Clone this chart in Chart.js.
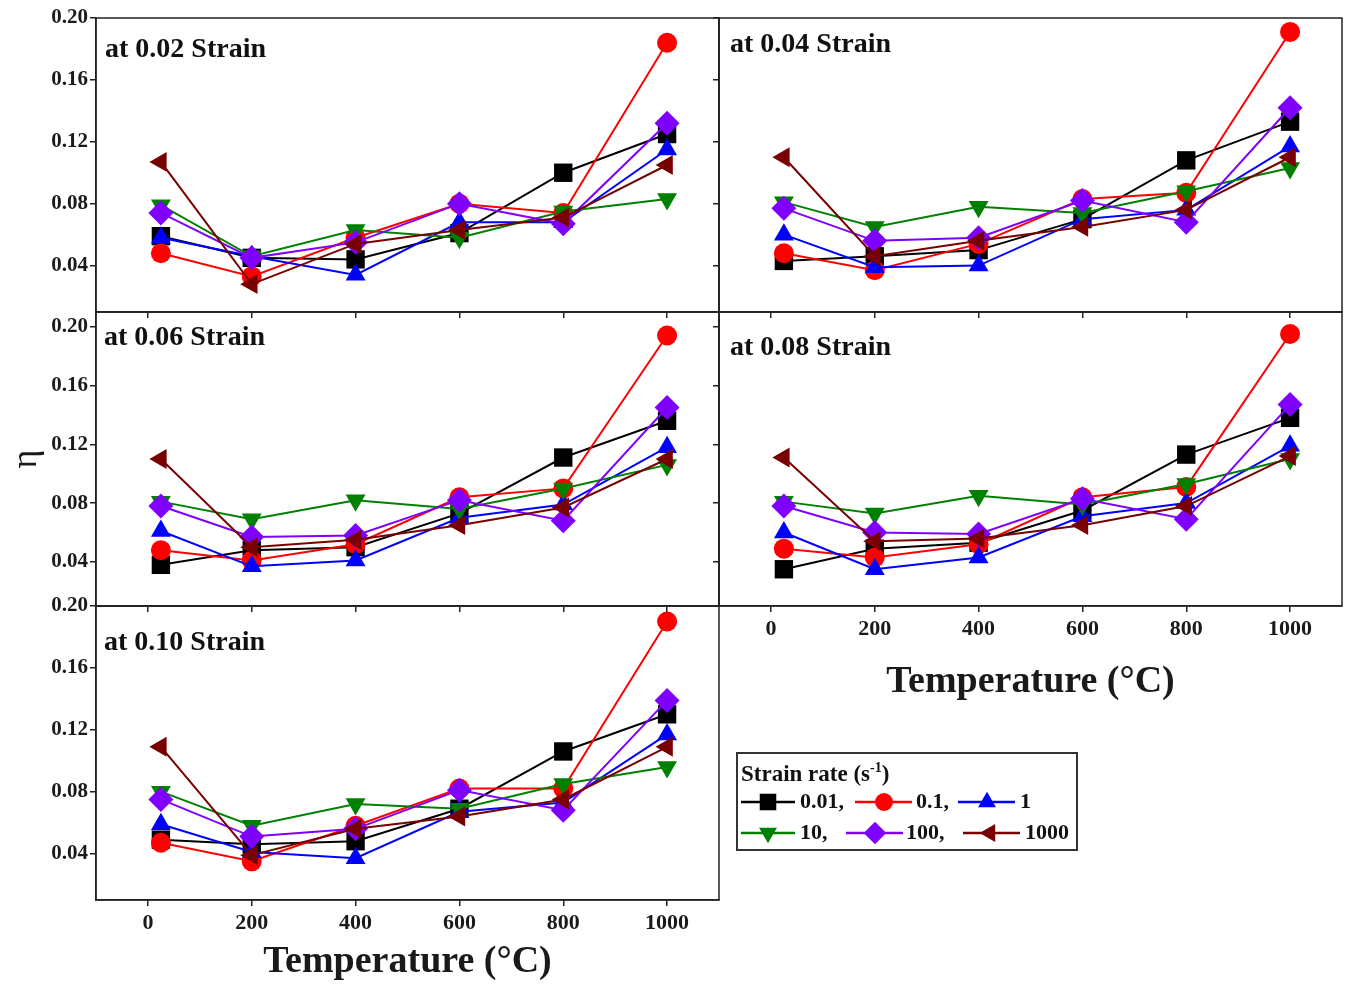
<!DOCTYPE html>
<html>
<head>
<meta charset="utf-8">
<script src="https://cdn.jsdelivr.net/npm/chart.js@4.4.1/dist/chart.umd.min.js"></script>
<style>
  html, body { margin: 0; padding: 0; background: #fff; overflow: hidden; }
  #wrap { position: relative; width: 1350px; height: 986px; }
  #wrap > canvas { position: absolute; }
  #legend { position: absolute; left: 736px; top: 752px; width: 342px; height: 99px;
            border: 2px solid #333; box-sizing: border-box; color: #111;
            font-family: "Liberation Serif", "Times New Roman", serif; font-weight: bold; }
  #legend span { position: absolute; white-space: nowrap; line-height: 1; }
  #legend canvas { position: absolute; left: 0; top: 0; }
</style>
</head>
<body>
<div id="wrap">
  <canvas id="c002"></canvas>
  <canvas id="c004"></canvas>
  <canvas id="c006"></canvas>
  <canvas id="c008"></canvas>
  <canvas id="c010"></canvas>
  <div id="legend"><canvas id="legendMarks" width="338" height="95"></canvas></div>
</div>
<script>
var temperatures = [25, 200, 400, 600, 800, 1000];
var strainRates = ['0.01', '0.1', '1', '10', '100', '1000'];
var xTickValues = [0, 200, 400, 600, 800, 1000];
var xTickLabels = ['0', '200', '400', '600', '800', '1000'];
var yTickValues = [0.04, 0.08, 0.12, 0.16, 0.20];
var yTickLabels = ['0.04', '0.08', '0.12', '0.16', '0.20'];

// efficiency eta vs temperature, one row per strain rate (same order as strainRates)
var eta002 = [
    [0.059, 0.045, 0.044, 0.061, 0.100, 0.125],
    [0.048, 0.033, 0.058, 0.080, 0.074, 0.184],
    [0.058, 0.046, 0.034, 0.068, 0.068, 0.115],
    [0.079, 0.046, 0.063, 0.058, 0.075, 0.083],
    [0.074, 0.045, 0.055, 0.080, 0.067, 0.132],
    [0.107, 0.028, 0.054, 0.063, 0.071, 0.105]
];
var eta004 = [
    [0.043, 0.046, 0.050, 0.070, 0.108, 0.133],
    [0.048, 0.037, 0.054, 0.083, 0.087, 0.191],
    [0.060, 0.039, 0.040, 0.070, 0.076, 0.117],
    [0.081, 0.065, 0.078, 0.074, 0.088, 0.103],
    [0.077, 0.056, 0.058, 0.082, 0.068, 0.142],
    [0.110, 0.046, 0.056, 0.065, 0.076, 0.110]
];
var eta006 = [
    [0.038, 0.048, 0.050, 0.073, 0.111, 0.136],
    [0.048, 0.041, 0.052, 0.084, 0.090, 0.194],
    [0.061, 0.037, 0.041, 0.070, 0.079, 0.118],
    [0.081, 0.069, 0.082, 0.076, 0.090, 0.106],
    [0.078, 0.057, 0.058, 0.082, 0.068, 0.145],
    [0.110, 0.050, 0.055, 0.065, 0.077, 0.110]
];
var eta008 = [
    [0.035, 0.049, 0.053, 0.075, 0.113, 0.138],
    [0.049, 0.043, 0.052, 0.084, 0.091, 0.195],
    [0.060, 0.035, 0.043, 0.071, 0.080, 0.119],
    [0.081, 0.073, 0.085, 0.079, 0.093, 0.110],
    [0.078, 0.060, 0.059, 0.083, 0.069, 0.147],
    [0.111, 0.054, 0.056, 0.065, 0.078, 0.112]
];
var eta010 = [
    [0.049, 0.046, 0.048, 0.069, 0.106, 0.130],
    [0.047, 0.035, 0.058, 0.082, 0.082, 0.190],
    [0.059, 0.041, 0.037, 0.067, 0.073, 0.117],
    [0.080, 0.058, 0.072, 0.069, 0.085, 0.096],
    [0.075, 0.051, 0.056, 0.081, 0.068, 0.139],
    [0.109, 0.039, 0.056, 0.064, 0.075, 0.109]
];

var colors = ['#000000', '#ff0000', '#0000ff', '#008000', '#8000ff', '#780000'];
var markers = ['rect', 'circle', 'triangle', 'triangle', 'rectRot', 'triangle'];
var rotations = [0, 0, 0, 180, 0, 270];
var radii = [13, 10, 11.5, 11.5, 12.5, 11.5];

var serif = '"Liberation Serif", "Times New Roman", serif';
var ink = '#1a1a1a';
var PAD_TOP = 18, PAD_RIGHT = 10;

// frame round the plot area + the "at x Strain" caption
var panelFrame = {
    id: 'panelFrame',
    afterDraw: function (chart, args, opts) {
        var ctx = chart.ctx, a = chart.chartArea;
        ctx.save();
        ctx.strokeStyle = '#222';
        ctx.lineWidth = 1.5;
        ctx.strokeRect(a.left, a.top, a.right - a.left, a.bottom - a.top);
        ctx.font = 'bold 28px ' + serif;
        ctx.fillStyle = '#111';
        ctx.textBaseline = 'middle';
        ctx.fillText(opts.text, a.left + opts.dx, a.top + opts.dy);
        ctx.restore();
    }
};

var panels = [
    { id: 'c002', label: 'at 0.02 Strain', eta: eta002, box: [96, 18, 719, 312], yMax: 0.20, yLabels: true, lab: [9, 32] },
    { id: 'c004', label: 'at 0.04 Strain', eta: eta004, box: [719, 18, 1342, 312], yMax: 0.20, yLabels: false, lab: [11, 27] },
    { id: 'c006', label: 'at 0.06 Strain', eta: eta006, box: [96, 312, 719, 606], yMax: 0.21, yLabels: true, yTitle: true, lab: [8, 26] },
    { id: 'c008', label: 'at 0.08 Strain', eta: eta008, box: [719, 312, 1342, 606], yMax: 0.21, yLabels: false, xLabels: true, xAxisH: 97, lab: [11, 36] },
    { id: 'c010', label: 'at 0.10 Strain', eta: eta010, box: [96, 606, 719, 900], yMax: 0.20, yLabels: true, xLabels: true, xAxisH: 83, lab: [8, 37] }
];

panels.forEach(function (p) {
    var l = p.box[0], t = p.box[1], r = p.box[2], b = p.box[3];
    var yW = p.yLabels ? 96 : 10;
    var xH = p.xAxisH || 16;
    var cv = document.getElementById(p.id);
    cv.width = yW + (r - l) + PAD_RIGHT;
    cv.height = PAD_TOP + (b - t) + xH;
    cv.style.left = (l - yW) + 'px';
    cv.style.top = (t - PAD_TOP) + 'px';

    new Chart(cv, {
        type: 'line',
        data: {
            datasets: p.eta.map(function (vals, k) {
                return {
                    label: strainRates[k],
                    data: temperatures.map(function (tc, i) { return { x: tc, y: vals[i] }; }),
                    borderColor: colors[k],
                    backgroundColor: colors[k],
                    pointBackgroundColor: colors[k],
                    borderWidth: 2,
                    pointStyle: markers[k],
                    pointRotation: rotations[k],
                    pointRadius: radii[k],
                    pointBorderWidth: 0,
                    tension: 0,
                    order: strainRates.length - k
                };
            })
        },
        options: {
            responsive: false,
            animation: false,
            devicePixelRatio: 1,
            events: [],
            layout: { autoPadding: false, padding: { top: PAD_TOP, right: PAD_RIGHT, left: 0, bottom: 0 } },
            plugins: {
                legend: { display: false },
                tooltip: { enabled: false },
                panelFrame: { text: p.label, dx: p.lab[0], dy: p.lab[1] }
            },
            scales: {
                x: {
                    type: 'linear',
                    min: -100,
                    max: 1100,
                    afterBuildTicks: function (s) { s.ticks = xTickValues.map(function (v) { return { value: v }; }); },
                    afterFit: function (s) { s.height = xH; },
                    ticks: {
                        display: !!p.xLabels,
                        padding: 4,
                        color: ink,
                        font: { family: serif, weight: 'bold', size: 22 },
                        callback: function (v, i) { return xTickLabels[i]; }
                    },
                    grid: { drawOnChartArea: false, drawTicks: true, tickLength: 6, color: '#222', lineWidth: 1.5 },
                    border: { display: true, color: '#222', width: 1.5 },
                    title: {
                        display: !!p.xLabels,
                        text: 'Temperature (°C)',
                        color: ink,
                        padding: { top: 2, bottom: 2 },
                        font: { family: serif, weight: 'bold', size: 38, lineHeight: 1 }
                    }
                },
                y: {
                    min: 0.01,
                    max: p.yMax,
                    afterBuildTicks: function (s) { s.ticks = yTickValues.map(function (v) { return { value: v }; }); },
                    afterFit: function (s) { s.width = yW; },
                    ticks: {
                        display: !!p.yLabels,
                        padding: 2,
                        color: ink,
                        font: { family: serif, weight: 'bold', size: 21 },
                        callback: function (v, i) { return yTickLabels[i]; }
                    },
                    grid: { drawOnChartArea: false, drawTicks: true, tickLength: 6, color: '#222', lineWidth: 1.5 },
                    border: { display: true, color: '#222', width: 1.5 },
                    title: {
                        display: !!p.yTitle,
                        text: 'η',
                        color: ink,
                        padding: { top: 9, bottom: 0 },
                        font: { family: serif, size: 36, lineHeight: 1 }
                    }
                }
            }
        },
        plugins: [panelFrame]
    });
});

// legend: strain rate key, three entries per row
var legendSlots = [
    [3, 57, 30, 62, 48], [117, 174, 146, 178, 48], [220, 277, 249, 282, 48],
    [3, 57, 30, 62, 79], [108, 165, 137, 168, 79], [225, 282, 252, 287, 79]
];
var legendBox = document.getElementById('legend');
var lctx = document.getElementById('legendMarks').getContext('2d');

var titleSpan = document.createElement('span');
titleSpan.innerHTML = 'Strain rate (s<sup style="font-size:14px">-1</sup>)';
titleSpan.style.fontSize = '23px';
titleSpan.style.left = '3px';
titleSpan.style.top = '7px';
legendBox.appendChild(titleSpan);

strainRates.forEach(function (rate, k) {
    var s = legendSlots[k];
    lctx.strokeStyle = colors[k];
    lctx.lineWidth = 2.5;
    lctx.beginPath();
    lctx.moveTo(s[0], s[4]);
    lctx.lineTo(s[1], s[4]);
    lctx.stroke();
    lctx.fillStyle = colors[k];
    Chart.helpers.drawPoint(lctx, { pointStyle: markers[k], rotation: rotations[k], radius: radii[k] * 0.9, borderWidth: 0 }, s[2], s[4]);

    var sp = document.createElement('span');
    sp.textContent = rate + (k % 3 < 2 ? ',' : '');
    sp.style.fontSize = '22px';
    sp.style.left = s[3] + 'px';
    sp.style.top = (s[4] - 12) + 'px';
    legendBox.appendChild(sp);
});
</script>
</body>
</html>
